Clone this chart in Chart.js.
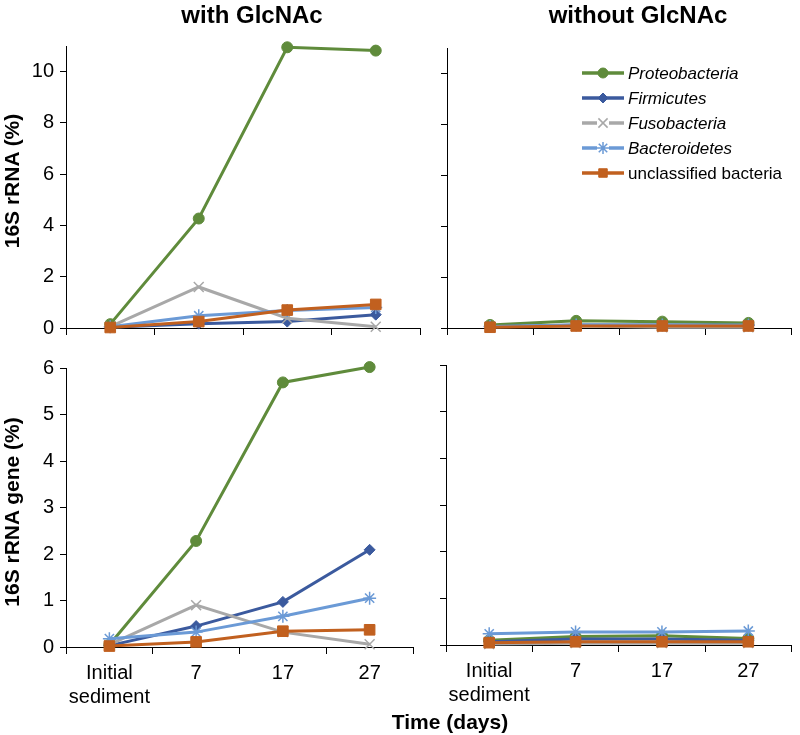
<!DOCTYPE html>
<html>
<head>
<meta charset="utf-8">
<script src="https://cdn.jsdelivr.net/npm/chart.js@4"></script>
<style>
  body { margin: 0; background: #fff; }
  #wrap { position: relative; width: 800px; height: 735px; font-family: "Liberation Sans", Arial, sans-serif; color: #000; }
  #wrap canvas { position: absolute; left: 0; top: 0; }
  .lbl { position: absolute; font-weight: bold; white-space: nowrap; transform: translate(-50%, -50%); }
  .rot { transform: translate(-50%, -50%) rotate(-90deg); }
</style>
</head>
<body>
<div id="wrap">
  <canvas id="tl" width="800" height="735"></canvas>
  <canvas id="tr" width="800" height="735"></canvas>
  <canvas id="bl" width="800" height="735"></canvas>
  <canvas id="br" width="800" height="735"></canvas>
  <div class="lbl" style="left:252px; top:15px; font-size:24px;">with GlcNAc</div>
  <div class="lbl" style="left:638px; top:15px; font-size:24px;">without GlcNAc</div>
  <div class="lbl rot" style="left:12px; top:181px; font-size:21px;">16S rRNA (%)</div>
  <div class="lbl rot" style="left:12px; top:512px; font-size:21px;">16S rRNA gene (%)</div>
  <div class="lbl" style="left:450px; top:722px; font-size:21px;">Time (days)</div>
</div>
<script>
const FONT = '"Liberation Sans", Arial, sans-serif';

const timeLabels = [["Initial", "sediment"], "7", "17", "27"];
const seriesNames = ["Proteobacteria", "Firmicutes", "Fusobacteria", "Bacteroidetes", "unclassified bacteria"];
const italicNames = [true, true, true, true, false];

// 16S rRNA (%), with GlcNAc
const proteoRnaWith = [0.15, 4.27, 10.95, 10.82];
const firmRnaWith = [0.03, 0.17, 0.25, 0.52];
const fusoRnaWith = [0.05, 1.6, 0.38, 0.05];
const bactRnaWith = [0.05, 0.48, 0.68, 0.8];
const unclRnaWith = [0.02, 0.25, 0.7, 0.92];

// 16S rRNA (%), without GlcNAc
const proteoRnaWithout = [0.12, 0.28, 0.25, 0.2];
const firmRnaWithout = [0.05, 0.12, 0.12, 0.1];
const fusoRnaWithout = [0.05, 0.08, 0.03, 0.03];
const bactRnaWithout = [0.06, 0.12, 0.12, 0.12];
const unclRnaWithout = [0.03, 0.08, 0.08, 0.08];

// 16S rRNA gene (%), with GlcNAc
const proteoGeneWith = [0.05, 2.28, 5.69, 6.02];
const firmGeneWith = [0.03, 0.45, 0.97, 2.09];
const fusoGeneWith = [0.05, 0.9, 0.32, 0.06];
const bactGeneWith = [0.18, 0.32, 0.66, 1.05];
const unclGeneWith = [0.02, 0.11, 0.34, 0.37];

// 16S rRNA gene (%), without GlcNAc
const proteoGeneWithout = [0.1, 0.18, 0.2, 0.14];
const firmGeneWithout = [0.07, 0.13, 0.13, 0.1];
const fusoGeneWithout = [0.02, 0.04, 0.04, 0.04];
const bactGeneWithout = [0.24, 0.28, 0.28, 0.3];
const unclGeneWithout = [0.05, 0.07, 0.07, 0.07];

const colors = ["#5f8b3b", "#3b5a9e", "#a8a8a8", "#6b9ad6", "#c1601f"];
const markers = ["circle", "rectRot", "crossRot", "star", "rect"];
const markerSizes = [5.5, 5.5, 7, 6.5, 7.5];
const markerBorders = [1, 1, 1.5, 1.5, 1];

const X_H = 60;

// legend drawn inside the top-right panel
const insideLegend = {
  id: "insideLegend",
  afterDraw(chart, args, opts) {
    if (!opts.display) return;
    const ctx = chart.ctx;
    const x0 = chart.chartArea.left + 135;
    ctx.save();
    seriesNames.forEach((name, i) => {
      const y = 73 + i * 25;
      ctx.strokeStyle = colors[i];
      ctx.fillStyle = colors[i];
      ctx.lineWidth = 3.5;
      ctx.beginPath();
      ctx.moveTo(x0, y);
      ctx.lineTo(x0 + 42, y);
      ctx.stroke();
      if (markers[i] === "crossRot" || markers[i] === "star") {
        ctx.fillStyle = "#fff";
        ctx.fillRect(x0 + 15, y - 5, 12, 10);
        ctx.fillStyle = colors[i];
      }
      ctx.lineWidth = markerBorders[i];
      Chart.helpers.drawPoint(ctx, {
        pointStyle: markers[i],
        radius: markerSizes[i] - (i === 4 ? 1.5 : 0.5),
        borderWidth: markerBorders[i],
        rotation: 0
      }, x0 + 21, y);
      ctx.fillStyle = "#000";
      ctx.font = (italicNames[i] ? "italic " : "") + "17px " + FONT;
      ctx.textBaseline = "middle";
      ctx.textAlign = "left";
      ctx.fillText(name, x0 + 46, y + 1);
    });
    ctx.restore();
  }
};

function makePanel(id, data, area, yMax, yStep, showY, showX, legend) {
  const datasets = seriesNames.map((name, i) => ({
    label: name,
    data: data[i],
    borderColor: colors[i],
    backgroundColor: colors[i],
    borderWidth: 3,
    pointStyle: markers[i],
    pointRadius: markerSizes[i],
    pointBorderWidth: markerBorders[i],
    order: 5 - i,
    clip: false,
    tension: 0
  }));
  new Chart(document.getElementById(id), {
    type: "line",
    data: { labels: timeLabels, datasets: datasets },
    options: {
      responsive: false,
      animation: false,
      events: [],
      layout: {
        padding: { left: 0, top: area.top, right: 800 - area.right, bottom: 735 - area.bottom - X_H }
      },
      plugins: {
        legend: { display: false },
        tooltip: { enabled: false },
        insideLegend: { display: legend }
      },
      scales: {
        x: {
          type: "category",
          offset: true,
          grid: { offset: true, drawOnChartArea: false, tickLength: 7, color: "#000" },
          border: { color: "#000" },
          ticks: { display: showX, color: "#000", font: { size: 20, family: FONT }, padding: 7, maxRotation: 0, autoSkip: false },
          afterFit(s) { s.height = X_H; }
        },
        y: {
          min: 0,
          max: yMax,
          grid: { drawOnChartArea: false, tickLength: 6, color: "#000" },
          border: { color: "#000" },
          ticks: { display: showY, stepSize: yStep, includeBounds: false, color: "#000", font: { size: 20, family: FONT }, padding: 6 },
          afterFit(s) { s.width = area.left; }
        }
      }
    },
    plugins: [insideLegend]
  });
}

makePanel("tl", [proteoRnaWith, firmRnaWith, fusoRnaWith, bactRnaWith, unclRnaWith],
  { left: 66, right: 420, top: 46, bottom: 328 }, 11, 2, true, false, false);
makePanel("tr", [proteoRnaWithout, firmRnaWithout, fusoRnaWithout, bactRnaWithout, unclRnaWithout],
  { left: 447, right: 799, top: 48, bottom: 328 }, 11, 2, false, false, true);
makePanel("bl", [proteoGeneWith, firmGeneWith, fusoGeneWith, bactGeneWith, unclGeneWith],
  { left: 66, right: 413, top: 368, bottom: 647 }, 6, 1, true, true, false);
makePanel("br", [proteoGeneWithout, firmGeneWithout, fusoGeneWithout, bactGeneWithout, unclGeneWithout],
  { left: 446, right: 795, top: 365, bottom: 645 }, 6, 1, false, true, false);
</script>
</body>
</html>
